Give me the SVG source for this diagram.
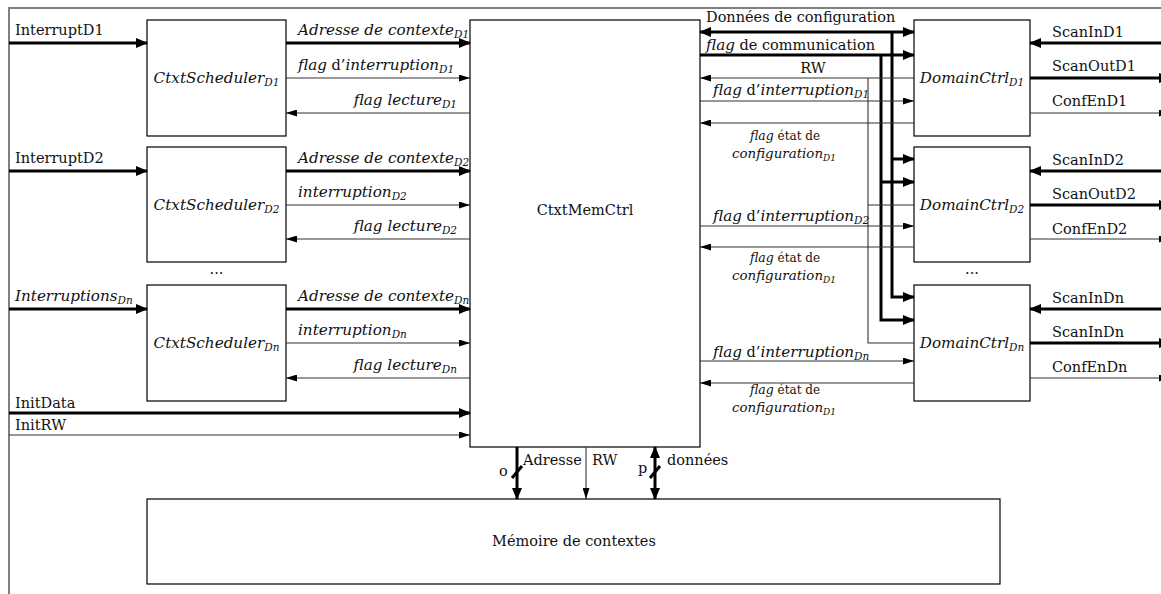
<svg xmlns="http://www.w3.org/2000/svg" width="1161" height="594" viewBox="0 0 1161 594">
<style>
.box{fill:#fff;stroke:#000;stroke-width:1.2}
.th{stroke:#000;stroke-width:3;fill:none}
.tn{stroke:#333;stroke-width:1.1;fill:none}
.ah{marker-end:url(#ah)}
.at{marker-end:url(#at)}
.ah2{marker-start:url(#ah);marker-end:url(#ah)}
.fr{stroke:#808080;stroke-width:2;fill:none}
text{font-family:"DejaVu Serif","Liberation Serif",serif;font-size:14.5px;fill:#111}
.i{font-style:italic;font-size:15.2px}
.s{font-size:10.5px;font-style:italic}
.sm{font-size:12px}
.smi{font-size:12.5px;font-style:italic}
.cf{font-size:13.4px;font-style:italic}
.sms{font-size:9px;font-style:italic}
.c{text-anchor:middle}
.e{text-anchor:end}
</style>
<defs>
<marker id="ah" viewBox="0 0 12 10" refX="11" refY="5" markerWidth="12" markerHeight="10" markerUnits="userSpaceOnUse" orient="auto-start-reverse"><path d="M0,0 L12,5 L0,10 z" fill="#000"/></marker>
<marker id="at" viewBox="0 0 11 7" refX="11" refY="3.5" markerWidth="11" markerHeight="7" markerUnits="userSpaceOnUse" orient="auto-start-reverse"><path d="M0,0 L11,3.5 L0,7 z" fill="#000"/></marker>
</defs>
<rect width="1161" height="594" fill="#fff"/>
<path class="fr" d="M9,594 V8 H1161"/>

<g id="sched1"><rect class="box" x="147" y="20" width="139" height="116"/><text class="c" x="216.5" y="83"><tspan class="i">CtxtScheduler</tspan><tspan class="s" dy="3">D1</tspan></text></g>
<g id="sched2"><rect class="box" x="147" y="147" width="139" height="115"/><text class="c" x="216.5" y="210"><tspan class="i">CtxtScheduler</tspan><tspan class="s" dy="3">D2</tspan></text></g>
<g id="schedn"><rect class="box" x="147" y="285" width="139" height="116"/><text class="c" x="216.5" y="348"><tspan class="i">CtxtScheduler</tspan><tspan class="s" dy="3">Dn</tspan></text></g>
<g id="memctrl"><rect class="box" x="470" y="20" width="230" height="427"/><text class="c" x="585" y="215">CtxtMemCtrl</text></g>
<g id="dom1"><rect class="box" x="914" y="20" width="116" height="116"/><text class="c" x="972" y="83"><tspan class="i">DomainCtrl</tspan><tspan class="s" dy="3">D1</tspan></text></g>
<g id="dom2"><rect class="box" x="914" y="147" width="116" height="115"/><text class="c" x="972" y="210"><tspan class="i">DomainCtrl</tspan><tspan class="s" dy="3">D2</tspan></text></g>
<g id="domn"><rect class="box" x="914" y="285" width="116" height="116"/><text class="c" x="972" y="348"><tspan class="i">DomainCtrl</tspan><tspan class="s" dy="3">Dn</tspan></text></g>
<g id="memoire"><rect class="box" x="147" y="499" width="853" height="85"/><text class="c" x="574" y="546">Mémoire de contextes</text></g>
<g id="dots"><text class="c" x="216.5" y="274">...</text><text class="c" x="972" y="274">...</text></g>

<g id="connectors">
<path class="th ah" d="M9,43 H147"/>
<path class="th ah" d="M9,171 H147"/>
<path class="th ah" d="M9,309 H147"/>
<path class="th ah" d="M9,413 H470"/>
<path class="tn at" d="M9,435 H470"/>

<path class="th ah" d="M286,43 H470"/>
<path class="tn at" d="M286,78 H470"/>
<path class="tn at" d="M470,113 H286"/>
<path class="th ah" d="M286,171 H470"/>
<path class="tn at" d="M286,205 H470"/>
<path class="tn at" d="M470,239 H286"/>
<path class="th ah" d="M286,309 H470"/>
<path class="tn at" d="M286,343 H470"/>
<path class="tn at" d="M470,378 H286"/>

<path class="th ah2" d="M700,32 H914"/>
<path class="th ah" d="M892,32 V297 H914"/>
<path class="th ah" d="M892,159 H914"/>
<path class="th ah" d="M700,55 H914"/>
<path class="th ah" d="M881,55 V320 H914"/>
<path class="th ah" d="M881,182 H914"/>
<path class="tn at" d="M914,78 H700"/>
<path class="tn" d="M868,78 V343 H914"/>
<path class="tn" d="M868,205 H914"/>
<path class="tn at" d="M700,101 H914"/>
<path class="tn at" d="M914,123 H700"/>
<path class="tn at" d="M700,226 H914"/>
<path class="tn at" d="M914,247 H700"/>
<path class="tn at" d="M700,361 H914"/>
<path class="tn at" d="M914,383 H700"/>

<path class="th ah" d="M1165,43 H1030"/>
<path class="th ah" d="M1030,78 H1170"/>
<path class="tn at" d="M1030,113 H1170"/>
<path class="th ah" d="M1165,171 H1030"/>
<path class="th ah" d="M1030,205 H1170"/>
<path class="tn at" d="M1030,239 H1170"/>
<path class="th ah" d="M1165,309 H1030"/>
<path class="th ah" d="M1030,343 H1170"/>
<path class="tn at" d="M1030,378 H1170"/>

<path class="th ah" d="M517,447 V499"/>
<path class="th" d="M512,478 L522,466"/>
<path class="tn at" d="M586,447 V499"/>
<path class="th ah2" d="M655,447 V499"/>
<path class="th" d="M650,478 L660,466"/>
</g>

<g id="labels">
<text x="15" y="35">InterruptD1</text>
<text x="15" y="163">InterruptD2</text>
<text x="15" y="301"><tspan class="i">Interruptions</tspan><tspan class="s" dy="3">Dn</tspan></text>
<text x="15" y="408">InitData</text>
<text x="15" y="430">InitRW</text>

<text x="298" y="35"><tspan class="i">Adresse de contexte</tspan><tspan class="s" dy="3">D1</tspan></text>
<text x="298" y="70"><tspan class="i">flag</tspan> d’<tspan class="i">interruption</tspan><tspan class="s" dy="3">D1</tspan></text>
<text class="e" x="457" y="105"><tspan class="i">flag lecture</tspan><tspan class="s" dy="3">D1</tspan></text>
<text x="298" y="163"><tspan class="i">Adresse de contexte</tspan><tspan class="s" dy="3">D2</tspan></text>
<text x="298" y="197"><tspan class="i">interruption</tspan><tspan class="s" dy="3">D2</tspan></text>
<text class="e" x="457" y="231"><tspan class="i">flag lecture</tspan><tspan class="s" dy="3">D2</tspan></text>
<text x="298" y="301"><tspan class="i">Adresse de contexte</tspan><tspan class="s" dy="3">Dn</tspan></text>
<text x="298" y="335"><tspan class="i">interruption</tspan><tspan class="s" dy="3">Dn</tspan></text>
<text class="e" x="457" y="370"><tspan class="i">flag lecture</tspan><tspan class="s" dy="3">Dn</tspan></text>

<text x="706" y="22">Données de configuration</text>
<text x="706" y="50"><tspan class="i">flag</tspan> de communication</text>
<text class="c" x="813" y="73">RW</text>
<text x="713" y="95"><tspan class="i">flag</tspan> d’<tspan class="i">interruption</tspan><tspan class="s" dy="3">D1</tspan></text>
<text class="c sm" x="785" y="140"><tspan class="smi">flag</tspan> état de</text>
<text class="c" x="784" y="158"><tspan class="cf">configuration</tspan><tspan class="sms" dy="3">D1</tspan></text>
<text x="713" y="221"><tspan class="i">flag</tspan> d’<tspan class="i">interruption</tspan><tspan class="s" dy="3">D2</tspan></text>
<text class="c sm" x="785" y="262"><tspan class="smi">flag</tspan> état de</text>
<text class="c" x="784" y="280"><tspan class="cf">configuration</tspan><tspan class="sms" dy="3">D1</tspan></text>
<text x="713" y="357"><tspan class="i">flag</tspan> d’<tspan class="i">interruption</tspan><tspan class="s" dy="3">Dn</tspan></text>
<text class="c sm" x="785" y="394"><tspan class="smi">flag</tspan> état de</text>
<text class="c" x="784" y="412"><tspan class="cf">configuration</tspan><tspan class="sms" dy="3">D1</tspan></text>

<text x="1052" y="37">ScanInD1</text>
<text x="1052" y="71">ScanOutD1</text>
<text x="1052" y="106">ConfEnD1</text>
<text x="1052" y="165">ScanInD2</text>
<text x="1052" y="199">ScanOutD2</text>
<text x="1052" y="234">ConfEnD2</text>
<text x="1052" y="303">ScanInDn</text>
<text x="1052" y="337">ScanInDn</text>
<text x="1052" y="372">ConfEnDn</text>

<text x="523" y="465">Adresse</text>
<text x="592" y="465">RW</text>
<text x="667" y="465">données</text>
<text x="499" y="476">o</text>
<text x="638" y="473">p</text>
</g>
</svg>
